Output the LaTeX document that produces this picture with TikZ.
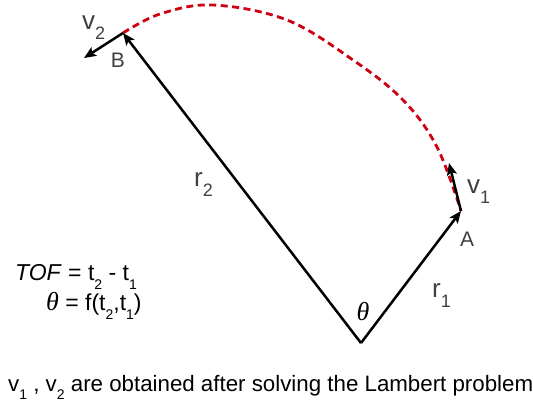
\documentclass[tikz,border=0pt]{standalone}
\usepackage{fontspec}
\setmainfont{Liberation Sans}
\newfontfamily\serifit{Liberation Serif}
\usetikzlibrary{arrows.meta}
\definecolor{lblgray}{HTML}{404040}
\definecolor{arcred}{HTML}{CC0011}
\newcommand\mysub[1]{\raisebox{-0.4em}{\fontsize{14}{14}\selectfont #1}}
\newcommand\lsub[1]{\raisebox{-10pt}{\fontsize{18}{18}\selectfont #1}}
\newcommand\mytheta{{\serifit\itshape θ}}
\tikzset{
  vec/.style={line width=2.5pt, -{Stealth[length=12pt,width=10pt,inset=2.5pt]}},
  lbl/.style={text=lblgray, font=\fontsize{26}{30}\selectfont, inner sep=0pt},
  pt/.style={text=lblgray, font=\fontsize{21}{24}\selectfont, inner sep=0pt},
  txt/.style={text=black, font=\fontsize{22}{26}\selectfont, inner sep=0pt},
  arc/.style={arcred, line width=2.8pt, dash pattern=on 7pt off 4.5pt}
}
\begin{document}
\begin{tikzpicture}[x=1pt,y=-1pt]
\useasboundingbox (0,0) rectangle (533,408);
\coordinate (O) at (361,343);
\coordinate (A) at (461,211);
\coordinate (B) at (123,33);
\coordinate (V1) at (449,163);
\coordinate (V2) at (84,58);
\draw[arc] plot[smooth, tension=0.6] coordinates {(123,33) (160,14) (213,5) (287,20) (353,60) (403,100) (437,147) (461,211)};
\draw[vec] (O) -- (A);
\draw[vec] (O) -- (B);
\draw[vec] (A) -- (V1);
\draw[vec] (B) -- (V2);
\node[lbl, anchor=base west] (lv2) at (82,29) {v\lsub{2}};
\node[pt] (lB) at (118,60) {B};
\node[lbl, anchor=base west] (lr2) at (194,186) {r\lsub{2}};
\node[lbl, anchor=base west] (lv1) at (467,193) {v\lsub{1}};
\node[pt] (lA) at (467,239) {A};
\node[lbl, anchor=base west] (lr1) at (432,297) {r\lsub{1}};
\node[txt, font=\fontsize{26}{28}\selectfont] (th) at (363,312) {\mytheta};
\node[txt, font=\fontsize{23}{26}\selectfont, anchor=base west] (tof) at (15,280) {\textit{TOF} = t\mysub{2} - t\mysub{1}};
\node[txt, font=\fontsize{23}{26}\selectfont, anchor=base west] (thf) at (46,310) {{\fontsize{26}{28}\selectfont\mytheta} = f(t\mysub{2},t\mysub{1})};
\node[txt, font=\fontsize{22.3}{26}\selectfont, anchor=base west] (bot) at (8,391) {v\mysub{1} , v\mysub{2} are obtained after solving the Lambert problem};
\end{tikzpicture}
\end{document}
